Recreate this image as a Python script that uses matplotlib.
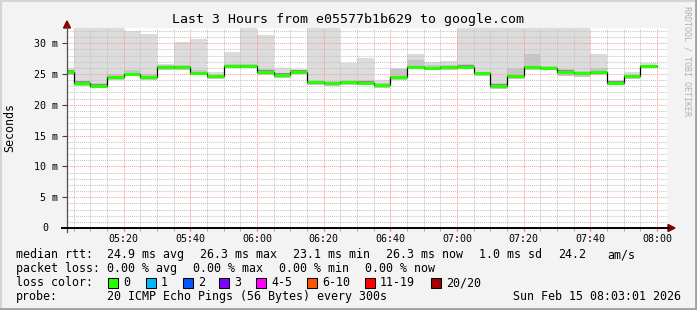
import numpy as np
import matplotlib
matplotlib.use("Agg")
from matplotlib import pyplot as plt
from matplotlib.patches import Rectangle, Polygon
from matplotlib.lines import Line2D

# 
# SmokePing style latency chart, last 3 hours
# 

# bin start, minutes after 05:00 (5 minute steps)
bin_start = list(range(0, 180, 5))

# median rtt per bin (ms)
median = [25.4, 23.6, 23.1, 24.5, 25.0, 24.5, 26.1, 26.1, 25.2, 24.6, 26.3, 26.3,
          25.4, 24.9, 25.4, 23.7, 23.5, 23.7, 23.6, 23.2, 24.5, 26.1, 26.0, 26.1,
          26.2, 25.1, 23.1, 24.6, 26.1, 26.0, 25.4, 25.1, 25.3, 23.6, 24.6, 26.3]
# slowest ping per bin
ping_max = [26.0, 34.0, 34.0, 34.0, 32.0, 31.5, 26.7, 30.2, 30.7, 25.4, 28.6, 34.0,
            31.4, 25.9, 25.8, 34.0, 34.0, 26.8, 27.6, 24.0, 26.0, 28.2, 26.9, 27.1,
            34.0, 34.0, 34.0, 34.0, 34.0, 34.0, 34.0, 34.0, 28.2, 24.0, 25.3, 26.8]
# fastest ping per bin
ping_min = [24.9, 23.0, 22.8, 24.1, 24.6, 24.1, 25.7, 25.7, 24.8, 24.2, 25.9, 25.9,
            24.8, 24.3, 25.0, 23.2, 23.0, 23.2, 23.2, 22.8, 24.1, 25.8, 25.6, 25.7,
            25.8, 24.6, 22.6, 24.2, 25.7, 25.6, 24.7, 24.5, 24.9, 23.2, 24.2, 25.9]
# upper edge of the denser smoke
smoke_mid = [25.7, 23.9, 23.5, 25.0, 25.6, 25.0, 26.5, 26.4, 25.6, 24.9, 26.6, 26.6,
             25.8, 25.2, 25.6, 24.0, 23.8, 24.0, 24.0, 23.6, 25.8, 27.2, 26.4, 26.5,
             26.7, 25.4, 23.6, 26.0, 28.3, 26.3, 25.8, 25.5, 26.0, 23.8, 24.9, 26.5]

x_labels = ["05:20", "05:40", "06:00", "06:20", "06:40", "07:00", "07:20", "07:40", "08:00"]
y_ticks = [5, 10, 15, 20, 25, 30]

loss_labels = ["0", "1", "2", "3", "4-5", "6-10", "11-19", "20/20"]
loss_colors = ["#26ff00", "#00b8ff", "#0059ff", "#7e00ff", "#ff00ff", "#ff5500", "#ff0000", "#a10000"]

W, H = 697, 310
MONO = "DejaVu Sans Mono"


def fx(px):
    return px / W


def fy(py):
    return 1 - py / H


fig = plt.figure(figsize=(W / 100, H / 100), dpi=100, facecolor="#f3f3f3")
ax = fig.add_axes([fx(67), fy(228), 600 / W, 200 / H])
ax.set_facecolor("white")
ax.set_xlim(3 + 1 / 60, 183 + 1 / 60)
ax.set_ylim(0, 32.47)
for s in ax.spines.values():
    s.set_visible(False)

# smoke, step shaped
edges = bin_start + [180]
def stepped(vals):
    return list(vals) + [vals[-1]]

med_arr = np.array(median)
ax.fill_between(edges, stepped(ping_min), stepped(ping_max), step="post",
                color="#dcdcdc", lw=0, zorder=1)
ax.fill_between(edges, stepped(ping_min), stepped(smoke_mid), step="post",
                color="#c6c6c6", lw=0, zorder=1.1)
ax.fill_between(edges, stepped(med_arr - 0.25), stepped(med_arr + 0.2), step="post",
                color="#8e8e8e", lw=0, zorder=1.2)

# grid, drawn over the smoke
for m in range(5, 185, 5):
    if m % 20 == 0:
        continue
    ax.axvline(m, color="#c4c4c4", lw=0.75, ls=(0, (1, 1)), zorder=2)
for v in range(1, 33):
    if v % 5 == 0:
        continue
    ax.axhline(v, color="#c4c4c4", lw=0.75, ls=(0, (1, 1)), zorder=2)
for m in range(20, 181, 20):
    ax.axvline(m, color="#ff9a9a", lw=0.75, ls=(0, (1, 1)), zorder=2.1)
for v in y_ticks:
    ax.axhline(v, color="#ff9a9a", lw=0.75, ls=(0, (1, 1)), zorder=2.1)

# median line
ax.step(edges, stepped(median), where="post", color="black", lw=0.9, zorder=3)
ax.hlines(median, bin_start, [b + 5 for b in bin_start], color=loss_colors[0], lw=2.2, zorder=4)

# ticks
ax.set_xticks(list(range(20, 181, 20)))
ax.set_xticklabels(x_labels, fontfamily=MONO, fontsize=7.2)
ax.set_xticks(list(range(5, 185, 5)), minor=True)
ax.set_yticks(y_ticks)
ax.set_yticklabels([f"{v} m" for v in y_ticks], fontfamily=MONO, fontsize=7.2)
ax.tick_params(axis="x", which="major", length=2, color="#ff6060", pad=2.5)
ax.tick_params(axis="x", which="minor", length=2, color="#a0a0a0")
ax.tick_params(axis="y", which="major", length=3.5, color="#404040", pad=3)
fig.text(fx(48), fy(228), "0", ha="right", va="center", fontfamily=MONO, fontsize=7.2)

# axes with arrows
fig.add_artist(Line2D([fx(67), fx(67)], [fy(232), fy(26)], color="#505050", lw=0.9))
fig.add_artist(Line2D([fx(62), fx(669)], [fy(228), fy(228)], color="black", lw=1.4))
fig.add_artist(Polygon([(fx(63.5), fy(28)), (fx(70.5), fy(28)), (fx(67), fy(21))],
                       closed=True, color="#8b0000", transform=fig.transFigure))
fig.add_artist(Polygon([(fx(668), fy(224.5)), (fx(668), fy(231.5)), (fx(675), fy(228))],
                       closed=True, color="#8b0000", transform=fig.transFigure))

# titles
fig.text(fx(348), fy(19), "Last 3 Hours from e05577b1b629 to google.com",
         ha="center", va="center", fontfamily=MONO, fontsize=9.5)
fig.text(fx(10), fy(128), "Seconds", rotation=90, ha="center", va="center",
         fontfamily=MONO, fontsize=8.4)
fig.text(fx(687), fy(6), "RRDTOOL / TOBI OETIKER", rotation=270, ha="center", va="top",
         fontfamily=MONO, fontsize=6, color="#b0b0b0")

# legend block
fs = 8.4
rows = [
    (254.5, [(16, "median rtt:"), (107, "24.9 ms avg"), (200, "26.3 ms max"),
             (293, "23.1 ms min"), (386, "26.3 ms now"), (479, "1.0 ms sd"),
             (558, "24.2"), (607, "am/s")]),
    (268.5, [(16, "packet loss:"), (107, "0.00 % avg"), (193, "0.00 % max"),
             (279, "0.00 % min"), (365, "0.00 % now")]),
    (282.5, [(16, "loss color:")]),
    (296.5, [(16, "probe:"), (107, "20 ICMP Echo Pings (56 Bytes) every 300s")]),
]
for y, items in rows:
    for x, t in items:
        fig.text(fx(x), fy(y), t, ha="left", va="center", fontfamily=MONO, fontsize=fs)
fig.text(fx(681), fy(296.5), "Sun Feb 15 08:03:01 2026", ha="right", va="center",
         fontfamily=MONO, fontsize=fs)

box_x = [108, 146, 183, 219, 256, 307, 365, 431]
for bx, lab, col in zip(box_x, loss_labels, loss_colors):
    fig.add_artist(Rectangle((fx(bx), fy(287.5)), 10 / W, 10 / H, transform=fig.transFigure,
                             facecolor=col, edgecolor="black", lw=0.75))
    fig.text(fx(bx + 15), fy(282.5), lab, ha="left", va="center", fontfamily=MONO, fontsize=fs)

# 3d style frame
fig.add_artist(Line2D([0, 1], [fy(0.5), fy(0.5)], color="#d4d4d4", lw=1.5))
fig.add_artist(Line2D([fx(0.5), fx(0.5)], [0, 1], color="#d4d4d4", lw=1.5))
fig.add_artist(Line2D([0, 1], [fy(309), fy(309)], color="#a0a0a0", lw=2))
fig.add_artist(Line2D([fx(696), fx(696)], [0, 1], color="#a0a0a0", lw=2))

fig.savefig("out.png", dpi=100, facecolor=fig.get_facecolor())
